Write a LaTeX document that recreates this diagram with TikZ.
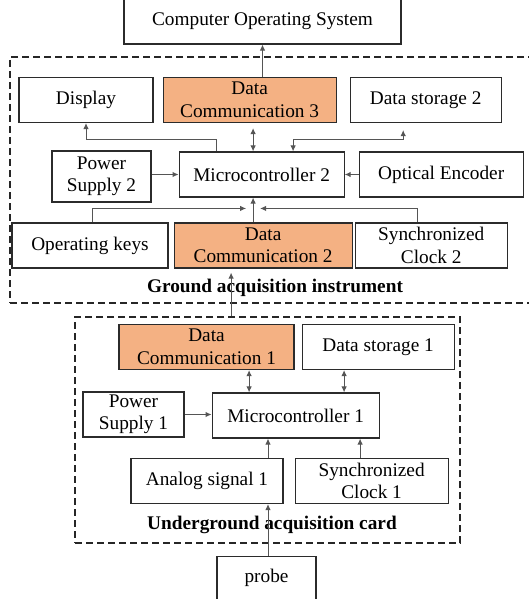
\documentclass[tikz,border=0pt]{standalone}
\usepackage{fontspec}
\setmainfont{Liberation Serif}
\usepackage{tikz}
\usetikzlibrary{arrows.meta, positioning}
\definecolor{morange}{HTML}{F4B183}
\definecolor{mline}{HTML}{555555}
\definecolor{mframe}{HTML}{2B2B2B}
\tikzstyle{unit} = [rectangle, draw = mframe, line width = 1.1pt, minimum height = 45pt, inner sep = 0pt, text centered]
\tikzstyle{link} = [unit, fill = morange]
\tikzstyle{zone} = [rectangle, draw = black!85, line width = 1.7pt, dash pattern = on 7pt off 4pt, inner sep = 0pt]
\tikzstyle{title} = [inner sep = 0pt, font = \fontsize{19.3}{22.5}\selectfont\bfseries]
\tikzstyle{signal} = [draw = mline, line width = 1pt, -{Latex[length=6pt,width=5.5pt]}]
\tikzstyle{duplex} = [draw = mline, line width = 1pt, {Latex[length=6pt,width=5.5pt]}-{Latex[length=6pt,width=5.5pt]}]

\begin{document}
\begin{tikzpicture}[x=1pt, y=1pt, align=center, font=\fontsize{19.3}{22.5}\selectfont]
  \useasboundingbox (0,0) rectangle (528,-599);
  \node (cos) [unit, minimum width = 277pt] at (262.5,-21.5) {Computer Operating System};
  % ground acquisition instrument
  \node (ground) [zone, minimum width = 530pt, minimum height = 246pt] at (275,-180) {};
  \node (display) [unit, minimum width = 134pt] at (86,-100) {Display};
  \node (dc3) [link, minimum width = 173pt, right = 9pt of display] {Data\\Communication 3};
  \node (ds2) [unit, minimum width = 151pt, right = 13pt of dc3] {Data storage 2};
  \node (ps2) [unit, minimum width = 99pt, minimum height = 51pt] at (101.5,-176.5) {Power\\Supply 2};
  \node (mc2) [unit, minimum width = 165pt, right = 27pt of ps2, yshift = 2pt] {Microcontroller 2};
  \node (oe) [unit, minimum width = 164pt, right = 14pt of mc2] {Optical Encoder};
  \node (opk) [unit, minimum width = 156pt] at (90,-245.5) {Operating keys};
  \node (dc2) [link, minimum width = 178pt, right = 5pt of opk] {Data\\Communication 2};
  \node (sc2) [unit, minimum width = 152pt, right = 2pt of dc2] {Synchronized\\Clock 2};
  \node (glabel) [title, above = 7pt of ground.south] {Ground acquisition instrument};
  \coordinate (hub) at ([xshift = -10pt, yshift = 14pt]dc2.north);
  \draw [signal] (dc3.north -| cos.south) -- (cos.south);
  \draw [duplex, shorten >= 5pt] ([xshift = -8.5pt]mc2.north) -- ([xshift = -8.5pt]mc2.north |- dc3.south);
  \draw [signal] ([xshift = -45.5pt]mc2.north) -- ++(0,12pt) -| (display.south);
  \draw [duplex, shorten >= 7pt] ([xshift = 31.5pt]mc2.north) -- ++(0,12pt) -| ([xshift = -22.5pt]ds2.south);
  \draw [signal] (ps2.east |- mc2.west) -- (mc2.west);
  \draw [signal] (oe.west) -- (mc2.east);
  \draw [signal] ([xshift = 2pt]opk.north) |- ([xshift = -7pt]hub);
  \draw [signal] ([xshift = -14pt]sc2.north) |- ([xshift = 7pt]hub);
  \draw [signal] ([xshift = -10pt]dc2.north) -- ([xshift = -10pt]dc2.north |- mc2.south);
  % underground acquisition card
  \node (ugcard) [zone, minimum width = 385pt, minimum height = 226pt] at (267.5,-430) {};
  \node (dc1) [link, minimum width = 175pt] at (206.5,-347) {Data\\Communication 1};
  \node (ds1) [unit, minimum width = 152pt, right = 7pt of dc1] {Data storage 1};
  \node (ps1) [unit, minimum width = 101pt] at (133.5,-414.5) {Power\\Supply 1};
  \node (mc1) [unit, minimum width = 167pt, right = 27pt of ps1, yshift = -1pt] {Microcontroller 1};
  \node (as1) [unit, minimum width = 152pt] at (207,-481) {Analog signal 1};
  \node (sc1) [unit, minimum width = 153pt, right = 11pt of as1] {Synchronized\\Clock 1};
  \node (ulabel) [title, above = 10pt of ugcard.south, xshift = 4.5pt] {Underground acquisition card};
  \node (probe) [unit, minimum width = 99pt, minimum height = 43pt, below = 12pt of ugcard, xshift = -1pt] {probe};
  \draw [signal, shorten >= 4pt] ([xshift = -32pt]dc2.south |- ugcard.north) -- ([xshift = -32pt]dc2.south);
  \draw [duplex] ([xshift = -46.5pt]mc1.north) -- ([xshift = -46.5pt]mc1.north |- dc1.south);
  \draw [duplex] ([xshift = 48.5pt]mc1.north) -- ([xshift = 48.5pt]mc1.north |- ds1.south);
  \draw [signal] (ps1.east) -- (ps1.east -| mc1.west);
  \draw [signal] ([xshift = 61pt]as1.north) -- ([xshift = 61pt]as1.north |- mc1.south);
  \draw [signal] ([xshift = -11.5pt]sc1.north) -- ([xshift = -11.5pt]sc1.north |- mc1.south);
  \draw [signal] ([xshift = 1.5pt]probe.north) -- ([xshift = 1.5pt]probe.north |- as1.south);
\end{tikzpicture}
\end{document}
